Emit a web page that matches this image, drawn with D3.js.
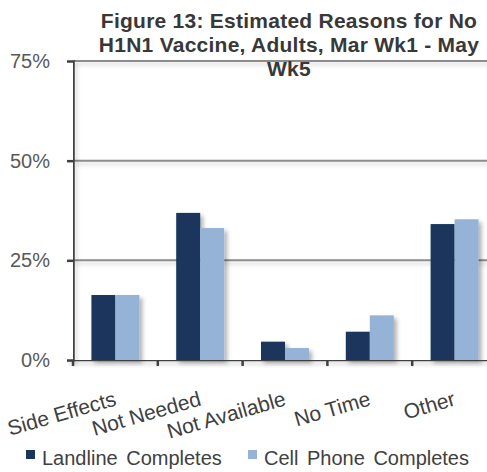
<!DOCTYPE html>
<html>
<head>
<meta charset="utf-8">
<script src="https://cdn.jsdelivr.net/npm/d3@7"></script>
<style>
  html, body { margin: 0; padding: 0; background: #fff; }
  svg { display: block; }
  text { font-family: "Liberation Sans", Arial, sans-serif; }
</style>
</head>
<body>
<div id="chart"></div>
<script>
// Reasons for not getting the H1N1 vaccine, by sample type
const categories = ["Side Effects", "Not Needed", "Not Available", "No Time", "Other"];
const seriesNames = ["Landline Completes", "Cell Phone Completes"];
const landline = [0.163, 0.369, 0.046, 0.071, 0.341];
const cellPhone = [0.163, 0.331, 0.030, 0.112, 0.353];
const yTicks = [0, 0.25, 0.5, 0.75];
const titleLines = ["Figure 13: Estimated Reasons for No", "H1N1 Vaccine, Adults, Mar Wk1 - May", "Wk5"];
const colors = ["#1b365d", "#95b3d7"];

const W = 487, H = 472;
const svg = d3.select("#chart").append("svg").attr("width", W).attr("height", H);

const defs = svg.append("defs");
const sh = defs.append("filter").attr("id", "shadow")
  .attr("x", "-20%").attr("y", "-20%").attr("width", "160%").attr("height", "160%");
sh.append("feDropShadow").attr("dx", 3).attr("dy", 3).attr("stdDeviation", 2)
  .attr("flood-color", "#000").attr("flood-opacity", 0.3);
const shLine = defs.append("filter").attr("id", "lineShadow")
  .attr("filterUnits", "userSpaceOnUse")
  .attr("x", 0).attr("y", 0).attr("width", W).attr("height", H);
shLine.append("feDropShadow").attr("dx", 2).attr("dy", 3).attr("stdDeviation", 2)
  .attr("flood-color", "#000").attr("flood-opacity", 0.18);

const plotLeft = 73, plotRight = 497, plotTop = 61, plotBottom = 360;

const x0 = d3.scaleBand().domain(categories).range([plotLeft, plotRight]).paddingInner(0).paddingOuter(0);
const x1 = d3.scaleBand().domain(seriesNames).range([0, x0.bandwidth()]).paddingInner(0).paddingOuter(0.767);
const y = d3.scaleLinear().domain([0, 0.75]).range([plotBottom, plotTop]);

// horizontal gridlines
svg.append("g").attr("filter", "url(#lineShadow)")
  .selectAll("line").data(yTicks.filter(d => d > 0)).join("line")
  .attr("x1", plotLeft).attr("x2", W)
  .attr("y1", d => y(d)).attr("y2", d => y(d))
  .attr("stroke", "#8c8c8c").attr("stroke-width", 2);

// bars
const rows = categories.map((c, i) => ({ cat: c, vals: [landline[i], cellPhone[i]] }));
const gBars = svg.append("g").attr("filter", "url(#shadow)");
gBars.selectAll("g").data(rows).join("g")
  .attr("transform", d => `translate(${x0(d.cat)},0)`)
  .selectAll("rect").data(d => d.vals.map((v, j) => ({ s: seriesNames[j], v, j })))
  .join("rect")
  .attr("x", d => x1(d.s)).attr("width", x1.bandwidth())
  .attr("y", d => y(d.v)).attr("height", d => plotBottom - y(d.v))
  .attr("fill", d => colors[d.j]);

// y axis
const yAxis = d3.axisLeft(y).tickValues(yTicks).tickFormat(d3.format(".0%")).tickSize(6).tickPadding(17);
const gy = svg.append("g").attr("transform", `translate(${plotLeft},0)`).call(yAxis);
gy.select(".domain").attr("stroke", "#404040").attr("stroke-width", 2.5).attr("filter", "url(#lineShadow)");
gy.selectAll(".tick line").attr("stroke", "#404040").attr("stroke-width", 2.5);
gy.selectAll(".tick text").attr("font-size", 20).attr("fill", "#595959")
  .attr("font-family", "Liberation Sans, Arial, sans-serif");

// x axis
const xAxis = d3.axisBottom(x0).tickSize(0).tickFormat("");
const gx = svg.append("g").attr("transform", `translate(0,${plotBottom})`).call(xAxis);
gx.select(".domain").remove();
gx.append("line").attr("x1", plotLeft - 6).attr("x2", W).attr("y1", 0).attr("y2", 0)
  .attr("stroke", "#404040").attr("stroke-width", 2.5).attr("filter", "url(#lineShadow)");
gx.selectAll(".sep").data(categories).join("line").attr("class", "sep")
  .attr("x1", d => x0(d)).attr("x2", d => x0(d)).attr("y1", 0).attr("y2", 6)
  .attr("stroke", "#404040").attr("stroke-width", 2.5);

// rotated category labels
svg.append("g").selectAll("text").data(categories).join("text")
  .attr("transform", d => `translate(${x0(d) + x0.bandwidth() / 2 + 2},${405}) rotate(-16)`)
  .attr("text-anchor", "end").attr("font-size", 21).attr("fill", "#404040")
  .text(d => d);

// title
svg.append("g").selectAll("text").data(titleLines).join("text")
  .attr("x", 289).attr("y", (d, i) => 28 + i * 24)
  .attr("text-anchor", "middle").attr("font-size", 21).attr("font-weight", "bold")
  .attr("fill", "#383838").attr("letter-spacing", 0.25)
  .text(d => d);

// legend
const legend = svg.append("g").attr("transform", "translate(26,465)");
const legX = [0, 222];
const li = legend.selectAll("g").data(seriesNames).join("g")
  .attr("transform", (d, i) => `translate(${legX[i]},0)`);
li.append("rect").attr("x", 0).attr("y", -15).attr("width", 9).attr("height", 9)
  .attr("fill", (d, i) => colors[i]);
li.append("text").attr("x", 16).attr("y", 0).attr("font-size", 20).attr("fill", "#404040")
  .attr("word-spacing", 3)
  .text(d => d);
</script>
</body>
</html>
